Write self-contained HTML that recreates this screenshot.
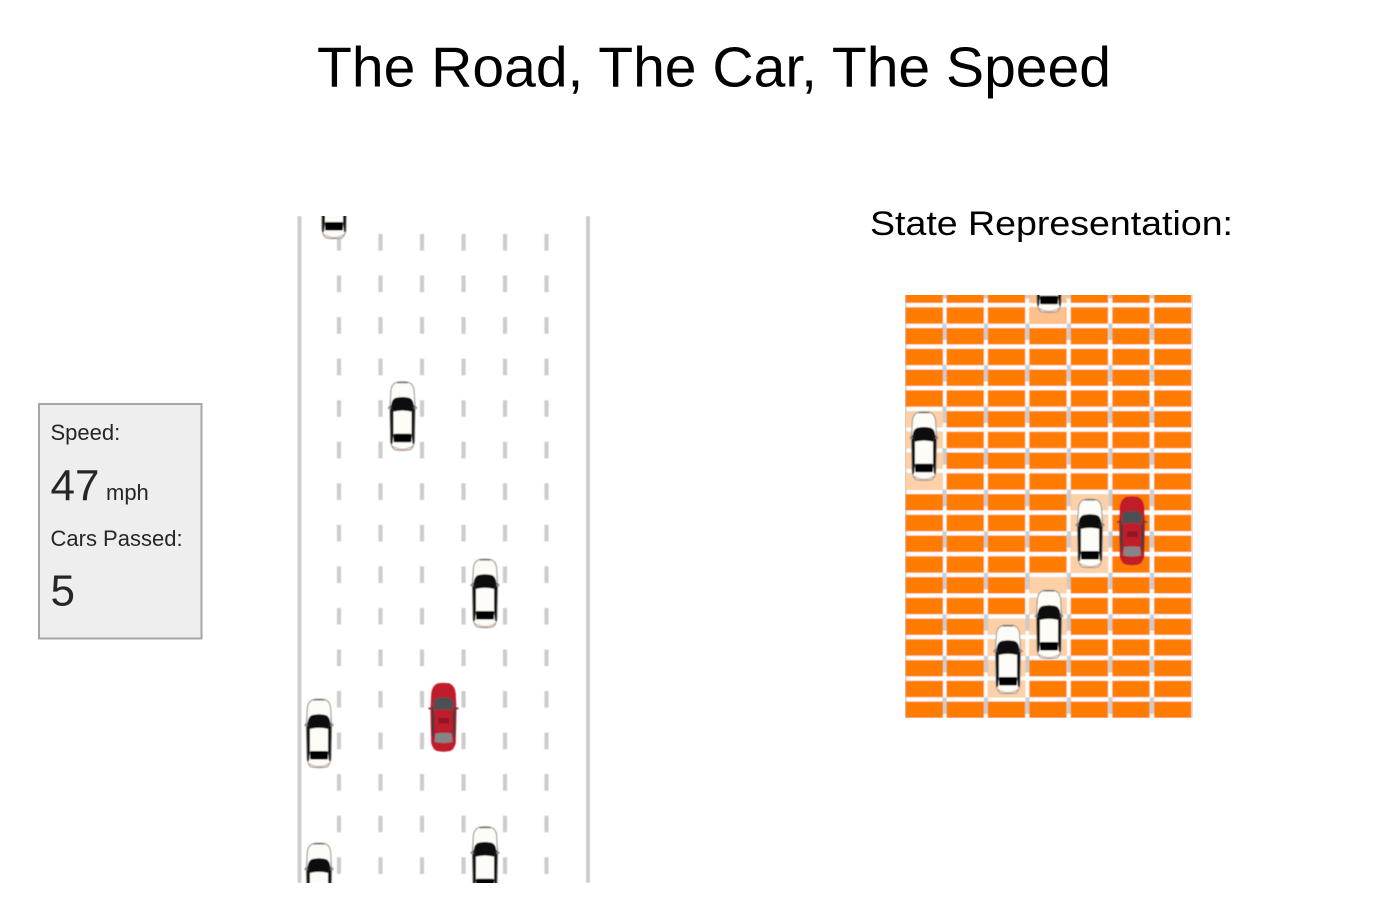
<!DOCTYPE html>
<html>
<head>
<meta charset="utf-8">
<title>The Road, The Car, The Speed</title>
<style>
html,body{margin:0;padding:0;background:#fff;width:1399px;height:924px;overflow:hidden}
svg{display:block}
text{font-family:"Liberation Sans",Arial,sans-serif}
</style>
</head>
<body>
<svg xmlns="http://www.w3.org/2000/svg" width="1399" height="924" viewBox="0 0 1399 924">
<defs>
<filter id="b" filterUnits="userSpaceOnUse" x="0" y="0" width="1399" height="924"><feGaussianBlur stdDeviation="0.45"/></filter>
<clipPath id="road"><rect x="290" y="216" width="310" height="667"/></clipPath>
<clipPath id="grid"><rect x="905" y="295" width="288" height="423"/></clipPath>
<symbol id="w" width="27" height="69" viewBox="0 0 27 69" overflow="visible">
<path d="M8 .5Q13.500-.3 19 .5Q24 2 25 8L26 24L25.500 58Q25 66 21 68Q13.500 69.300 6 68Q2 66 1.500 58L1 24L2 8Q3 2 8 .5Z" fill="#fdfcf6" stroke="#8e8e88" stroke-width="1"/>
<path d="M2 24Q3 17 7 16Q13.500 14.500 20 16Q24 17 25 24L23 30Q13.500 27.500 4 30Z" fill="#111"/>
<path d="M1 24H4.500V53L3.500 62H1.800Z M26 24H22.500V53L23.500 62H25.200Z" fill="#151515"/>
<rect x="4.500" y="52" width="18" height="8.500" rx="1.500" fill="#050505"/>
<rect x="-1" y="25" width="3" height="2.200" fill="#8a8a8a"/><rect x="25" y="25" width="3" height="2.200" fill="#8a8a8a"/>
<path d="M2.500 64Q13.500 71 24.500 64" fill="none" stroke="#c9a09a" stroke-width="1"/>
<path d="M8 1H19" stroke="#666" stroke-width="1.100"/>
</symbol>
<symbol id="r" width="27" height="69" viewBox="0 0 27 69" overflow="visible">
<path d="M8 .3Q13.500-.6 19 .3Q25 2.500 25.800 11L26.500 28L25.800 60Q24 67 20 68Q13.500 69.400 7 68Q3 67 1.200 60L.5 28L1.200 11Q2 2.500 8 .3Z" fill="#c01c2c"/>
<path d="M3 22Q4 16 7 15.200Q13.500 13.800 20 15.200Q23 16 24 22L22 27.500Q13.500 25.500 5 27.500Z" fill="#4e5052"/>
<path d="M2 23L4.200 29V50L2.600 57L1.800 48V26Z M25 23L22.800 29V50L24.400 57L25.200 48V26Z" fill="#3c3c3e"/>
<path d="M5.500 50.500Q13.500 49 21.500 50.500L22.500 59Q13.500 61 4.500 59Z" fill="#858585"/>
<rect x="-1.500" y="24.500" width="3.600" height="1.800" fill="#962030"/><rect x="24.900" y="24.500" width="3.600" height="1.800" fill="#962030"/>
<rect x="8.500" y="35" width="10.500" height="5.500" fill="#8e1628"/>
</symbol>
</defs>

<text x="317" y="86.500" font-size="57" textLength="794" lengthAdjust="spacingAndGlyphs" fill="#000">The Road, The Car, The Speed</text>
<text x="870" y="235" font-size="34" textLength="363" lengthAdjust="spacingAndGlyphs" fill="#000">State Representation:</text>

<rect x="39" y="404" width="162.500" height="234.500" fill="#eee" stroke="#a6a6a6" stroke-width="2"/>
<g fill="#262626">
<text x="50.500" y="440" font-size="22">Speed:</text>
<text x="50.500" y="500.500" font-size="44">47</text>
<text x="106" y="500" font-size="22">mph</text>
<text x="50.500" y="546" font-size="22">Cars Passed:</text>
<text x="50.500" y="605.500" font-size="44">5</text>
</g>

<g clip-path="url(#road)">
<g filter="url(#b)">
<g stroke="#ccc" stroke-width="3.800">
<line x1="299.500" y1="216" x2="299.500" y2="883"/>
<line x1="588" y1="216" x2="588" y2="883"/>
</g>
<g stroke="#ccc" stroke-width="4.200" stroke-dasharray="16.600 24.950">
<line x1="339" y1="234" x2="339" y2="883"/>
<line x1="380.500" y1="234" x2="380.500" y2="883"/>
<line x1="422" y1="234" x2="422" y2="883"/>
<line x1="463.500" y1="234" x2="463.500" y2="883"/>
<line x1="505" y1="234" x2="505" y2="883"/>
<line x1="546.500" y1="234" x2="546.500" y2="883"/>
</g>
<use href="#w" x="320.500" y="170"/>
<use href="#w" x="389" y="381.700"/>
<use href="#w" x="471.500" y="559"/>
<use href="#w" x="305.500" y="699"/>
<use href="#w" x="471.500" y="826.700"/>
<use href="#w" x="305.500" y="843"/>
<use href="#r" x="430" y="683"/>
</g>
</g>

<g clip-path="url(#grid)">
<g filter="url(#b)">
<rect x="905" y="290" width="288" height="430" fill="#fff"/>
<rect x="903" y="290" width="3.400" height="430" fill="#ccc"/>
<rect x="1192" y="290" width="3" height="430" fill="#ddd"/>
<g stroke="#ccc" stroke-width="4.200" stroke-dasharray="16.600 24.950">
<line x1="944.500" y1="281.900" x2="944.500" y2="720"/>
<line x1="986" y1="281.900" x2="986" y2="720"/>
<line x1="1027.500" y1="281.900" x2="1027.500" y2="720"/>
<line x1="1069" y1="281.900" x2="1069" y2="720"/>
<line x1="1110.500" y1="281.900" x2="1110.500" y2="720"/>
<line x1="1152" y1="281.900" x2="1152" y2="720"/>
</g>
<g stroke="#ff7b00" stroke-width="37.400" stroke-dasharray="16.500 4.250">
<line x1="924.300" y1="286.550" x2="924.300" y2="720"/>
<line x1="965.200" y1="286.550" x2="965.200" y2="720"/>
<line x1="1006.500" y1="286.550" x2="1006.500" y2="720"/>
<line x1="1048" y1="286.550" x2="1048" y2="720"/>
<line x1="1089.400" y1="286.550" x2="1089.400" y2="720"/>
<line x1="1131" y1="286.550" x2="1131" y2="720"/>
<line x1="1172.800" y1="286.550" x2="1172.800" y2="720"/>
</g>
<g stroke-width="37.400" stroke-dasharray="16.500 4.250">
<line x1="1048" y1="286.550" x2="1048" y2="324" stroke="#fdc08a"/>
<line x1="924.300" y1="411.050" x2="924.300" y2="490" stroke="#fdd0a8"/>
<line x1="1089.400" y1="494.050" x2="1089.400" y2="573" stroke="#fdd0a8"/>
<line x1="1048" y1="577.050" x2="1048" y2="656" stroke="#fdd0a8"/>
<line x1="1006.500" y1="618.550" x2="1006.500" y2="698" stroke="#fdd0a8"/>
</g>
<use href="#w" x="1035.500" y="243.700"/>
<use href="#w" x="910.500" y="411.700"/>
<use href="#w" x="1076.500" y="499"/>
<use href="#w" x="1035.500" y="590"/>
<use href="#w" x="994.500" y="625"/>
<use href="#r" x="1118.500" y="496.500"/>
</g>
</g>
</svg>
</body>
</html>
